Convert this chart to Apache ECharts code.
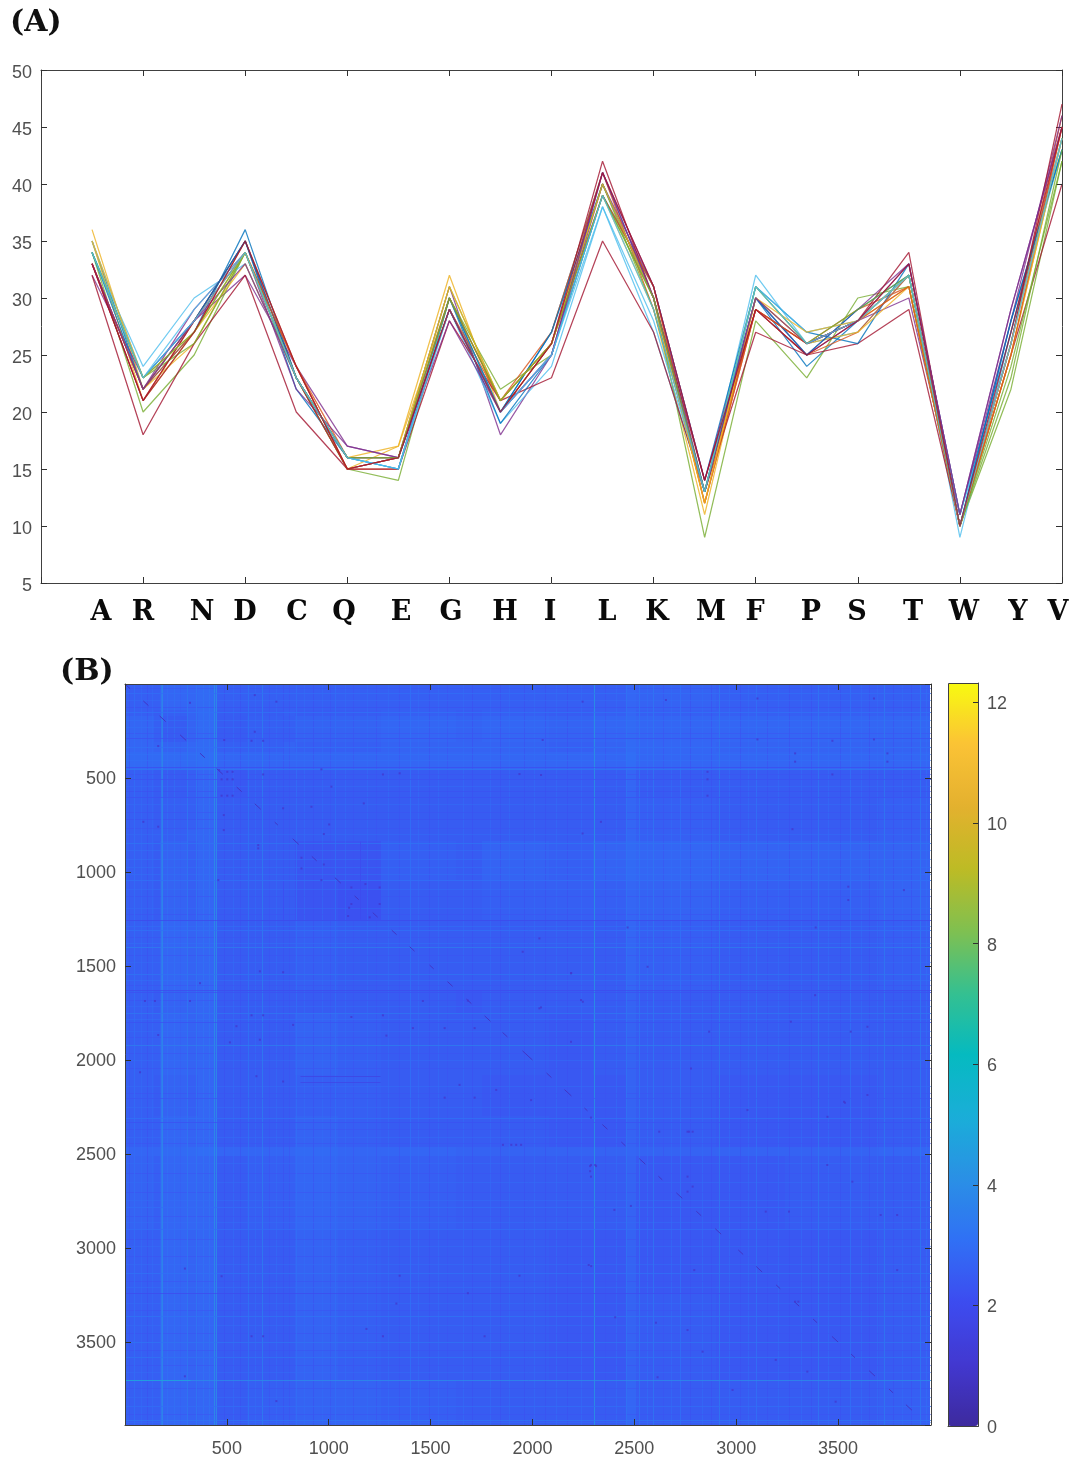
<!DOCTYPE html>
<html><head><meta charset="utf-8">
<style>html,body{margin:0;padding:0;background:#fff}#c{width:1074px;height:1459px}</style>
<script src="https://cdn.jsdelivr.net/npm/echarts@6/dist/echarts.min.js"></script>
</head><body><div id="c"></div>
<script>
const aminoAcids = ['A','R','N','D','C','Q','E','G','H','I','L','K','M','F','P','S','T','W','Y','V'];
const s1  = [35,22,27,36,23,15,16,29,20,27,41,30,13,30,24,28,32,10,28,43];
const s2  = [33,21,28,34,24,15,15,30,21,26,40,30,12,29,26,29,31,10,26,46];
const s3  = [36,22,26,34,23,16,17,32,20,26,39,29,11,30,26,28,31,10,25,44];
const s4  = [32,23,28,32,24,17,16,31,18,25,40,31,13,29,25,28,30,11,29,45];
const s5  = [34,20,25,34,23,15,14,30,22,25,39,30, 9,28,23,30,31,10,22,42];
const s6  = [34,24,30,33,23,16,15,29,19,24,38,27,13,32,26,27,32, 9,27,43];
const s7  = [32,18,26,32,20,15,15,28,21,23,35,27,13,27,25,26,29,10,25,40];
const s8  = [34,23,28,35,22,16,15,30,19,25,39,31,14,31,27,26,33,11,27,44];
const s9  = [33,22,27,35,24,16,16,29,21,27,41,29,13,29,25,27,32,10,26,45];
const s10 = [35,21,27,33,23,15,17,30,20,26,40,30,12,30,26,27,31,10,25,44];
const s11 = [33,22,29,34,22,17,16,28,20,25,41,31,14,30,25,29,33,11,28,46];
const s12 = [34,23,26,34,23,16,16,31,21,26,40,29,13,31,26,28,32,10,24,42];
const s13 = [35,23,29,34,23,16,15,30,20,25,38,28,13,31,27,28,32,11,26,44];
const s14 = [33,21,28,35,23,15,16,29,20,26,42,30,14,29,26,28,34,10,26,47];
const s15 = [34,22,28,35,23,16,16,30,20,27,40,30,13,30,25,29,32,10,28,43];
const s16 = [33,22,28,34,24,15,16,30,21,26,39,31,12,29,26,28,31,10,25,45];
const s17 = [35,23,27,34,23,16,16,31,21,26,40,30,12,30,27,28,32,10,26,44];
const s18 = [33,22,28,33,23,16,16,29,20,25,41,30,13,30,26,28,33,11,29,45];
const s19 = [34,23,27,34,23,16,16,30,21,26,39,30,13,31,26,29,32,10,23,43];
const s20 = [34,23,28,34,23,16,15,29,20,25,39,29,13,31,26,28,32,10,26,44];
const s21 = [33,21,27,35,24,15,16,29,20,26,41,31,14,29,25,28,33,10,27,45];
const allSeries = [s1,s2,s3,s4,s5,s6,s7,s8,s9,s10,s11,s12,s13,s14,s15,s16,s17,s18,s19,s20,s21];

// Heatmap bands (index units) and estimated value per band, in tenths
const bandEdges = [0,140,172,310,360,452,600,775,833,1043,1255,1627,1750,2080,2296,2460,2510,2900,3240,3500,3700,3950];
const m0  = [26,26,28,28,29,26,26,26,26,26,26,26,26,26,26,28,27,26,26,26,26];
const m1  = [26,25,26,27,29,25,25,26,25,25,26,25,26,25,26,28,26,26,26,26,26];
const m2  = [28,26,25,27,29,25,26,26,27,27,28,27,28,27,28,29,28,28,28,28,28];
const m3  = [28,27,27,28,29,26,26,27,26,26,27,27,27,26,27,29,28,27,27,27,27];
const m4  = [29,29,29,29,30,28,28,28,28,28,28,28,28,28,28,30,28,28,28,28,28];
const m5  = [26,25,25,26,28,24,25,25,25,25,25,25,25,25,25,28,25,25,25,25,25];
const m6  = [26,25,26,26,28,25,25,25,25,25,25,25,25,25,25,28,26,25,25,25,26];
const m7  = [26,26,26,27,28,25,25,25,25,25,25,25,25,25,25,28,26,25,25,25,26];
const m8  = [26,25,27,26,28,25,25,25,23,23,26,25,27,26,27,29,28,27,27,27,27];
const m9  = [26,25,27,26,28,25,25,25,23,22,25,25,26,26,26,28,27,26,26,26,27];
const m10 = [26,26,28,27,28,25,25,25,26,25,25,25,25,25,25,28,26,25,25,25,26];
const m11 = [26,25,27,27,28,25,25,25,25,25,25,24,25,25,25,27,25,25,25,25,25];
const m12 = [26,26,28,27,28,25,25,25,27,26,25,25,25,24,25,27,25,25,25,25,25];
const m13 = [26,25,27,26,28,25,25,25,26,26,25,25,24,24,24,27,25,24,24,24,25];
const m14 = [26,26,28,27,28,25,25,25,27,26,25,25,25,24,24,27,25,24,24,24,25];
const m15 = [28,28,29,29,30,28,28,28,29,28,28,27,27,27,27,28,27,27,27,27,28];
const m16 = [27,26,28,28,28,25,26,26,28,27,26,25,25,25,25,27,24,24,25,25,25];
const m17 = [26,26,28,27,28,25,25,25,27,26,25,25,25,24,24,27,24,24,24,24,25];
const m18 = [26,26,28,27,28,25,25,25,27,26,25,25,25,24,24,27,25,24,24,24,25];
const m19 = [26,26,28,27,28,25,25,25,27,26,25,25,25,24,24,27,25,24,24,24,25];
const m20 = [26,26,28,27,28,25,26,26,27,27,26,25,25,25,25,28,25,25,25,25,26];
const bandMatrix = [m0,m1,m2,m3,m4,m5,m6,m7,m8,m9,m10,m11,m12,m13,m14,m15,m16,m17,m18,m19,m20];

// thin full-length stripes: [index, value]
const columnStripes = [[45,3.0],[175,3.6],[182,4.0],[305,3.4],[348,3.3],[438,4.2],[445,4.0],[603,3.2],[672,3.5],[840,3.0],[1030,3.0],[1397,3.1],[2304,4.4],[2460,3.2],[2525,3.2],[2590,3.3],[2725,3.1],[2917,3.4],[3095,3.1],[3400,3.3],[3560,3.1],[3725,3.4],[3900,3.4]];
const rowStripes = [[50,3.0],[150,3.1],[285,2.2],[335,3.1],[442,2.1],[452,3.4],[505,2.2],[600,2.2],[848,3.2],[1045,3.1],[1255,1.9],[1310,3.1],[1400,3.5],[1540,3.2],[1627,2.0],[1640,2.2],[1752,3.3],[1800,2.2],[1920,3.5],[2200,2.3],[2310,3.1],[2330,2.2],[2780,3.0],[2900,3.0],[3130,3.1],[3240,2.0],[3360,3.2],[3500,3.2],[3580,3.2],[3702,4.0],[3840,3.0],[3915,3.3]];
// faint grain seen across the matrix: [index, value]
const fineColumns = [[22,2.2],[78,3.0],[110,2.1],[132,3.0],[205,3.2],[240,3.2],[270,2.5],[385,3.3],[412,3.3],[485,2.1],[530,3.0],[565,2.1],[640,3.0],[705,2.2],[740,3.0],[775,2.1],[805,2.2],[880,3.0],[925,2.1],[965,3.0],[1005,2.2],[1080,3.0],[1120,2.2],[1190,3.0],[1230,2.2],[1290,3.0],[1345,2.2],[1440,3.0],[1490,2.1],[1535,3.0],[1580,2.2],[1660,3.0],[1705,2.1],[1790,3.0],[1840,2.1],[1885,3.0],[1960,2.1],[2005,3.0],[2060,2.1],[2115,3.0],[2170,2.1],[2240,3.0],[2355,2.2],[2410,3.0],[2560,3.1],[2640,2.2],[2680,3.0],[2775,2.1],[2830,3.0],[2875,2.1],[2965,3.0],[3020,2.1],[3060,3.0],[3150,2.1],[3205,3.0],[3260,2.1],[3320,3.0],[3365,2.1],[3450,3.0],[3510,2.1],[3610,3.0],[3650,2.1],[3690,3.0],[3770,2.1],[3815,3.0],[3860,2.1],[3930,3.1]];
const fineRows = [[20,2.2],[85,3.0],[120,2.1],[190,3.1],[230,3.1],[260,2.2],[370,3.1],[405,3.1],[480,2.2],[540,3.0],[570,2.1],[640,3.0],[680,2.2],[720,2.1],[765,2.2],[800,3.0],[885,3.1],[930,3.1],[975,3.1],[1010,3.1],[1090,3.0],[1130,2.2],[1190,3.0],[1225,2.2],[1285,3.1],[1345,2.2],[1375,3.1],[1440,2.2],[1480,3.0],[1575,3.1],[1600,2.2],[1680,2.2],[1715,3.0],[1780,3.1],[1845,3.0],[1880,2.2],[1960,2.2],[2000,3.0],[2040,2.2],[2140,3.0],[2175,2.2],[2250,3.0],[2365,2.2],[2410,3.0],[2440,2.2],[2550,3.0],[2600,2.2],[2650,3.0],[2700,2.2],[2745,3.0],[2830,2.2],[2860,3.0],[2950,2.2],[2990,3.0],[3040,2.2],[3085,3.0],[3175,2.2],[3205,3.1],[3290,3.0],[3330,2.2],[3410,3.0],[3450,2.2],[3540,2.2],[3620,2.2],[3660,3.0],[3745,2.2],[3790,3.0],[3880,2.2],[3925,3.0]];
// partial stripes: [x0,y0,x1,y1,value]
const partialStripes = [[0,3702,320,3702,4.9],[860,2083,1250,2083,1.6],[860,2117,1250,2117,1.7],[775,1050,775,1250,2.1],[1155,833,1155,1250,2.0]];
// dark segments on the diagonal: [from, to]
const diagonalRuns = [[0,25],[90,115],[170,200],[270,300],[368,392],[450,480],[548,573],[637,666],[735,750],[823,853],[917,941],[1030,1059],[1127,1147],[1216,1240],[1309,1333],[1397,1421],[1495,1515],[1583,1608],[1676,1700],[1765,1794],[1853,1877],[1951,2000],[2069,2093],[2157,2191],[2255,2270],[2343,2368],[2436,2456],[2524,2554],[2618,2637],[2706,2735],[2804,2828],[2897,2926],[3010,3034],[3098,3127],[3196,3216],[3284,3309],[3377,3397],[3470,3500],[3564,3583],[3652,3681],[3750,3770],[3833,3862]];
// isolated dark cells: [column, row]
const darkSpots = [[637,59],[743,94],[637,254],[621,302],[678,302],[487,298],[462,458],[474,507],[502,507],[528,507],[502,467],[528,467],[474,594],[502,594],[528,594],[485,697],[485,777],[458,1043],[90,733],[163,759],[319,100],[163,330],[964,454],[1266,481],[1348,475],[678,481],[1013,546],[915,653],[1172,635],[776,661],[1002,747],[976,798],[866,924],[866,981],[976,960],[964,1043],[1100,1190],[1111,1170],[1180,1064],[1250,1082],[1250,1170],[1095,1234],[1201,1241],[1111,1082],[654,857],[654,874],
[2287,2306],[2287,2558],[2308,2558],[2287,2620],[2761,2381],[2786,2381],[2761,2620],[2786,2673],[2761,2700],[2402,2797],[2483,2776],[3145,2806],[3259,2806],[3709,2824],[3790,2824],[2276,3090],[2794,3117],[3289,3285],[3305,3285],[2406,3368],[2606,3397],[2761,3436],[2835,3551],[3194,3595],[3349,3657],[2614,3687],[3488,3817],[2982,3755],[3790,3117],[3570,2647],[3447,2558],[3534,2227],
[662,1528],[776,1533],[368,1591],[98,1686],[147,1686],[319,1686],[621,1762],[678,1762],[1111,1771],[1266,1762],[547,1820],[825,1813],[163,1867],[662,1892],[515,1906],[1283,1870],[74,2065],[645,2086],[776,2114],[1413,1830],[1569,1830],[1716,1830],[1642,2132],[1822,2159],[1716,2200],[1569,2200],[1993,2213],[2190,1537],[2247,1690],[1462,1686],[1683,1684],[2042,1720],[1855,2451],[1896,2451],[1920,2451],[1944,2451],[2283,2564],[2312,2564],[2283,2591],[294,3109],[1683,3240],[621,3469],[678,3469],[1185,3430],[1266,3469],[1765,3469],[743,3814],[294,3682],[474,3150],[1348,3147],[1936,3147],[1332,3295],[2288,3096],
[2246,94],[2655,85],[3104,77],[3676,77],[2050,298],[3104,295],[3472,302],[3676,295],[3289,369],[3289,413],[3742,369],[3742,413],[1936,479],[2042,484],[2859,467],[2859,507],[2859,594],[3472,481],[2336,733],[2246,795],[3276,772],[3550,1078],[3550,1149],[3823,1096],[2467,1295],[3390,1295],[1952,1424],[2034,1353],[2189,1539],[2565,1504],[3387,1655],[3644,1823],[3268,1796],[2034,1725],[2238,1681],[2867,1849],[3562,1849],[2189,1903],[2778,2045],[3644,2186],[3529,2222],[3055,2266],[3448,2302],[2769,2381],[2622,2381]];

const NX = 3956, NY = 3941, CMAX = 12.32;
const matlabColors = ['#0072BD','#D95319','#EDB120','#7E2F8E','#77AC30','#4DBEEE','#A2142F'];
const parula = ['#3D2A9E','#4238D0','#3D4CF0','#3070F5','#2A90E5','#1AAED8','#05BAC0','#35C090','#80C050','#BDBB25','#E3B12E','#FBC236','#F8FA10'];
const FRAME = '#404040', TXT = '#505050', LF = 'Liberation Sans';

const lineSeries = allSeries.map((vals,i)=>({
  type:'line', xAxisIndex:0, yAxisIndex:0, showSymbol:false, symbol:'none', silent:true,
  data: vals.map((v,k)=>[k+1,v]),
  lineStyle:{width:1.25,color:matlabColors[i%7],opacity:.8}, z:2+i
}));

const cellData = [];
bandMatrix.forEach((row,r)=>row.forEach((v,c)=>cellData.push([bandEdges[c],bandEdges[c+1],bandEdges[r],bandEdges[r+1],v/10])));

const grainData = [];
fineColumns.forEach(s=>grainData.push([s[0],0,s[0],NY,s[1]]));
fineRows.forEach(s=>grainData.push([0,s[0],NX,s[0],s[1]]));
const stripeData = [];
columnStripes.forEach(s=>stripeData.push([s[0],0,s[0],NY,s[1]]));
rowStripes.forEach(s=>stripeData.push([0,s[0],NX,s[0],s[1]]));
partialStripes.forEach(s=>stripeData.push(s));
const diagData = diagonalRuns.map(d=>[d[0],d[0],d[1],d[1],0.8]);
const spotData = darkSpots.map(p=>[p[0],p[1],p[0],p[1],1.0]);

const base = (grid,extra)=>Object.assign({gridIndex:grid,type:'value',z:10,splitLine:{show:false},
  axisLine:{show:true,onZero:false,lineStyle:{color:FRAME,width:1}},
  axisTick:{show:true,inside:true,length:6,lineStyle:{color:'#303030',width:1}},
  axisLabel:{show:false}},extra);
const plain = v=>String(v);
const stripeItem = (op)=>(p,api)=>{
  const a=api.coord([api.value(0),api.value(1)]), b=api.coord([api.value(2),api.value(3)]);
  return {type:'line',shape:{x1:Math.round(a[0])+.5,y1:Math.round(a[1])+.5,x2:Math.round(b[0])+.5,y2:Math.round(b[1])+.5},
    style:{stroke:api.visual('color'),lineWidth:1,opacity:op}};
};

const n = allSeries.length;
const option = {
  animation:false, backgroundColor:'#fff',
  grid:[
    {left:41,top:70,width:1021,height:513},
    {left:125,top:684,width:806,height:741},
    {left:948,top:683,width:30,height:743}
  ],
  xAxis:[
    base(0,{min:0,max:20,interval:2,position:'bottom'}),
    base(0,{min:0,max:20,interval:2,position:'top'}),
    base(1,{min:0,max:NX,interval:500,position:'bottom',
      axisLabel:{show:true,color:TXT,fontFamily:LF,fontSize:18,margin:15,showMinLabel:false,showMaxLabel:false,formatter:plain}}),
    base(1,{min:0,max:NX,interval:500,position:'top'}),
    base(2,{min:0,max:1,position:'bottom',axisTick:{show:false}})
  ],
  yAxis:[
    base(0,{min:5,max:50,interval:5,position:'left',
      axisLabel:{show:true,color:TXT,fontFamily:LF,fontSize:18,margin:9,verticalAlign:'top',lineHeight:6}}),
    base(0,{min:5,max:50,interval:5,position:'right'}),
    base(1,{min:0,max:NY,interval:500,inverse:true,position:'left',
      axisLabel:{show:true,color:TXT,fontFamily:LF,fontSize:18,margin:9,showMinLabel:false,showMaxLabel:false,formatter:plain,verticalAlign:'top',lineHeight:2}}),
    base(1,{min:0,max:NY,interval:500,inverse:true,position:'right'}),
    base(2,{min:0,max:CMAX,interval:2,position:'right',
      axisLabel:{show:true,color:TXT,fontFamily:LF,fontSize:18,margin:9,showMaxLabel:false,verticalAlign:'top',lineHeight:4},
      axisTick:{show:true,inside:true,length:5,lineStyle:{color:'#303030'}}})
  ],
  visualMap:[{
    type:'continuous', min:0, max:CMAX, left:948, top:683, itemWidth:30, itemHeight:743, padding:0,
    calculable:false, realtime:false, hoverLink:false, dimension:4,
    seriesIndex:[n,n+1,n+2,n+3,n+4],
    inRange:{color:parula}, text:null, textStyle:{fontSize:0}, z:4
  }],
  series: lineSeries.concat([
    {type:'custom',xAxisIndex:2,yAxisIndex:2,silent:true,clip:true,z:1,data:cellData,
     encode:{x:[0,1],y:[2,3]},
     renderItem:(p,api)=>{
       const a=api.coord([api.value(0),api.value(2)]), b=api.coord([api.value(1),api.value(3)]);
       const x=Math.round(a[0]),y=Math.round(a[1]);
       return {type:'rect',shape:{x,y,width:Math.round(b[0])-x,height:Math.round(b[1])-y},style:{fill:api.visual('color')}};
     }},
    {type:'custom',xAxisIndex:2,yAxisIndex:2,silent:true,clip:true,z:2,data:grainData,
     encode:{x:[0,2],y:[1,3]},renderItem:stripeItem(.5)},
    {type:'custom',xAxisIndex:2,yAxisIndex:2,silent:true,clip:true,z:2,data:stripeData,
     encode:{x:[0,2],y:[1,3]},renderItem:stripeItem(.75)},
    {type:'custom',xAxisIndex:2,yAxisIndex:2,silent:true,clip:true,z:3,data:diagData,
     encode:{x:[0,2],y:[1,3]},
     renderItem:(p,api)=>{
       const a=api.coord([api.value(0),api.value(1)]), b=api.coord([api.value(2),api.value(3)]);
       return {type:'line',shape:{x1:a[0],y1:a[1],x2:b[0],y2:b[1]},style:{stroke:api.visual('color'),lineWidth:1}};
     }},
    {type:'scatter',xAxisIndex:2,yAxisIndex:2,silent:true,z:3,symbol:'rect',symbolSize:2,data:spotData,encode:{x:0,y:1}}
  ]),
  graphic:[
    {type:'rect',z:20,shape:{x:948.5,y:683.5,width:30,height:743},style:{fill:'none',stroke:FRAME,lineWidth:1},silent:true},
    {type:'text',z:20,left:10,top:8,style:{text:'(A)',font:'bold 30px "DejaVu Serif"',fill:'#111'}},
    {type:'text',z:20,left:60,top:657,style:{text:'(B)',font:'bold 30px "DejaVu Serif"',fill:'#111'}}
  ].concat([101,143,202,245,297,344,401,451,505,550,607,657,711,755,811,857,913,964,1018,1058].map((cx,i)=>({
    type:'text',z:20,x:cx,y:613,
    style:{text:aminoAcids[i],font:'bold 27px "DejaVu Serif"',fill:'#0a0a0a',textAlign:'center',textVerticalAlign:'middle'}
  })))
};
const chart = echarts.init(document.getElementById('c'),null,{renderer:'canvas'});
chart.setOption(option);
</script></body></html>
